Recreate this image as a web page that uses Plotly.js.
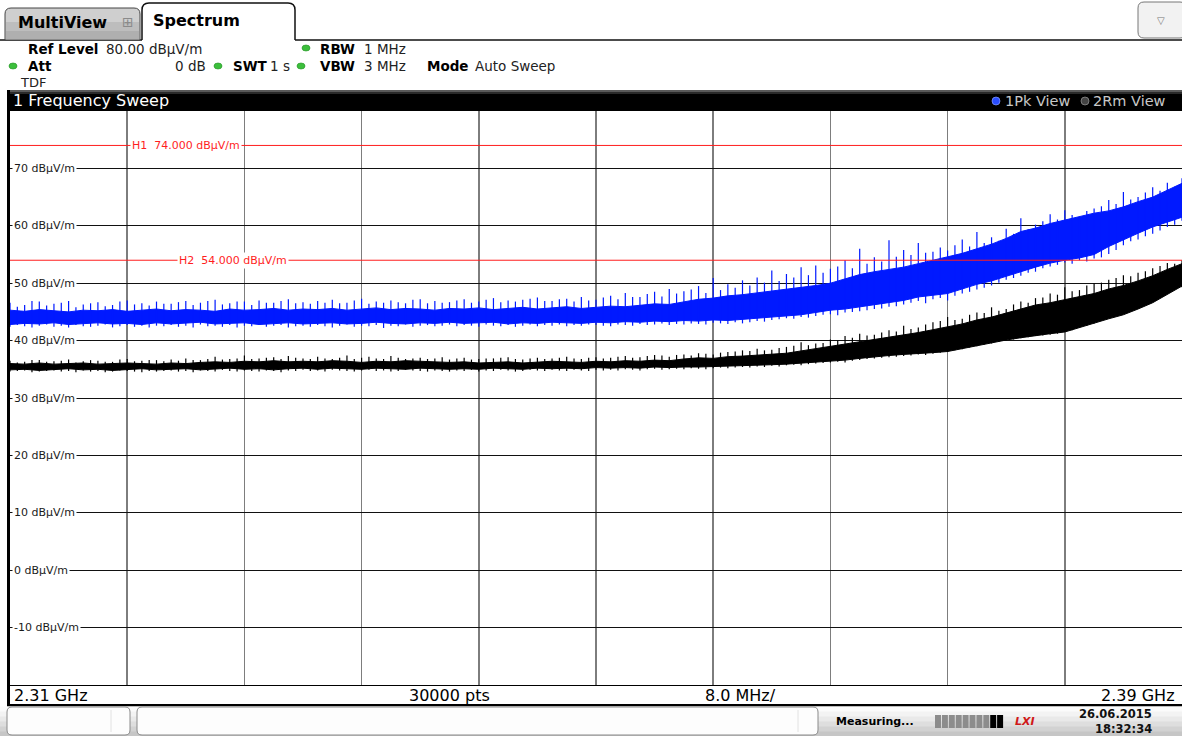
<!DOCTYPE html>
<html>
<head>
<meta charset="utf-8">
<script src="https://cdn.plot.ly/plotly-3.0.1.min.js"></script>
<style>
html,body{margin:0;padding:0;background:#fff;overflow:hidden;}
#chart{width:1182px;height:736px;}
</style>
</head>
<body>
<div id="chart"></div>
<script>
// ---------------- DATA ----------------
// 1 MHz grid: dense core of each trace
const freqMHz = [2310,2311,2312,2313,2314,2315,2316,2317,2318,2319,2320,2321,2322,2323,2324,2325,2326,2327,2328,2329,2330,2331,2332,2333,2334,2335,2336,2337,2338,2339,2340,2341,2342,2343,2344,2345,2346,2347,2348,2349,2350,2351,2352,2353,2354,2355,2356,2357,2358,2359,2360,2361,2362,2363,2364,2365,2366,2367,2368,2369,2370,2371,2372,2373,2374,2375,2376,2377,2378,2379,2380,2381,2382,2383,2384,2385,2386,2387,2388,2389,2390];

// Trace 1 (1Pk View, blue): core band bottom / top (dBµV/m)
const pkLow = [42.8,43.0,42.9,43.1,42.8,43.0,43.1,42.9,43.0,42.8,43.1,
  42.9,43.0,43.2,42.9,43.0,43.1,42.8,43.0,43.1,42.9,
  43.0,43.1,42.9,43.0,43.2,43.0,42.9,43.1,43.0,43.2,
  43.0,43.1,43.2,42.9,43.1,43.0,43.2,43.1,43.0,43.2,
  43.1,43.3,43.2,43.4,43.3,43.5,43.4,43.6,43.5,43.8,
  43.9,44.1,44.3,44.5,44.9,45.3,45.5,45.8,46.2,46.6,
  47.0,47.6,47.9,48.2,49.0,49.8,50.4,51.2,52.0,52.8,
  53.5,54.0,54.4,55.0,56.4,57.6,58.7,59.8,60.6,61.5];
const pkHigh = [45.3,45.1,45.4,45.2,45.0,45.3,45.2,45.4,45.1,45.3,45.5,
  45.2,45.4,45.3,45.1,45.5,45.3,45.4,45.6,45.3,45.5,
  45.4,45.6,45.3,45.5,45.7,45.4,45.6,45.5,45.3,45.6,
  45.5,45.7,45.4,45.6,45.8,45.5,45.7,45.9,45.6,45.8,
  46.0,45.9,46.2,46.4,46.3,46.8,47.2,47.4,47.8,48.0,
  48.3,48.6,49.0,49.3,49.6,50.0,50.8,51.5,52.0,52.4,
  52.8,53.4,54.0,54.5,55.2,56.0,56.8,57.8,59.0,59.6,
  60.4,61.0,61.6,62.2,62.6,63.3,64.2,65.0,66.2,67.4];

// Trace 2 (2Rm View, black): core band bottom / top
const rmLow = [34.9,35.0,34.8,35.0,35.1,34.9,35.0,34.8,35.0,35.1,34.9,
  35.0,35.1,34.9,35.0,35.2,35.0,35.1,34.9,35.1,35.2,
  35.0,35.2,35.1,35.0,35.2,35.1,35.0,35.2,35.1,35.0,
  35.1,35.0,35.2,35.1,35.0,35.2,35.1,35.2,35.1,35.3,
  35.2,35.3,35.2,35.4,35.3,35.4,35.4,35.5,35.5,35.6,
  35.7,35.8,35.9,36.0,36.2,36.4,36.6,36.9,37.2,37.4,
  37.6,37.8,37.9,38.1,38.6,39.2,39.6,40.1,40.5,40.9,
  41.2,41.5,42.3,43.0,43.8,44.5,45.5,46.6,48.0,49.5];
const rmHigh = [36.0,35.9,36.1,35.9,36.0,36.1,35.9,36.0,36.1,36.0,35.9,
  36.1,36.0,36.2,36.3,36.2,36.4,36.3,36.5,36.3,36.4,
  36.3,36.5,36.4,36.2,36.4,36.3,36.5,36.4,36.3,36.2,
  36.3,36.1,36.2,36.3,36.1,36.2,36.4,36.3,36.2,36.4,
  36.3,36.5,36.4,36.6,36.5,36.8,37.0,36.9,37.2,37.3,
  37.5,37.6,37.8,38.2,38.6,38.9,39.3,39.8,40.1,40.6,
  41.0,41.4,41.9,42.4,42.9,43.6,44.1,44.8,45.5,46.2,
  46.6,47.1,47.6,48.2,49.0,49.6,50.4,51.3,52.4,53.4];

// 0.5 MHz bins: min / max excursions (spikes) of each trace
const binMHz = [2310,2310.5,2311,2311.5,2312,2312.5,2313,2313.5,2314,2314.5,2315,2315.5,2316,2316.5,2317,2317.5,2318,2318.5,2319,2319.5,2320,
  2320.5,2321,2321.5,2322,2322.5,2323,2323.5,2324,2324.5,2325,2325.5,2326,2326.5,2327,2327.5,2328,2328.5,2329,2329.5,2330,
  2330.5,2331,2331.5,2332,2332.5,2333,2333.5,2334,2334.5,2335,2335.5,2336,2336.5,2337,2337.5,2338,2338.5,2339,2339.5,2340,
  2340.5,2341,2341.5,2342,2342.5,2343,2343.5,2344,2344.5,2345,2345.5,2346,2346.5,2347,2347.5,2348,2348.5,2349,2349.5,2350,
  2350.5,2351,2351.5,2352,2352.5,2353,2353.5,2354,2354.5,2355,2355.5,2356,2356.5,2357,2357.5,2358,2358.5,2359,2359.5,2360,
  2360.5,2361,2361.5,2362,2362.5,2363,2363.5,2364,2364.5,2365,2365.5,2366,2366.5,2367,2367.5,2368,2368.5,2369,2369.5,2370,
  2370.5,2371,2371.5,2372,2372.5,2373,2373.5,2374,2374.5,2375,2375.5,2376,2376.5,2377,2377.5,2378,2378.5,2379,2379.5,2380,
  2380.5,2381,2381.5,2382,2382.5,2383,2383.5,2384,2384.5,2385,2385.5,2386,2386.5,2387,2387.5,2388,2388.5,2389,2389.5,2390];

const pkMax = [46.6,45.9,46.2,46.9,46.8,46.1,46.4,46.6,46.9,45.8,46.3,46.5,46.7,46.0,46.2,46.8,47.0,46.3,46.5,46.1,46.8,
  46.4,46.4,46.7,46.9,46.2,46.6,46.9,47.1,46.3,46.5,46.8,46.8,46.2,47.0,46.6,46.6,46.9,47.2,46.5,46.7,
  46.4,46.9,46.6,47.1,46.5,46.6,47.0,47.3,46.4,46.8,46.6,47.0,46.7,46.5,47.1,47.2,46.5,46.9,46.6,46.7,
  47.0,47.2,46.6,46.8,47.1,47.4,46.7,47.0,46.8,47.1,47.3,47.5,46.9,46.9,47.2,47.3,46.8,47.6,47.0,47.1,
  47.5,47.8,47.2,48.3,47.6,47.6,48.1,48.5,47.7,49.0,48.2,48.6,48.9,49.5,48.3,50.9,48.8,49.8,49.2,50.5,
  49.6,51.0,50.1,52.2,50.4,51.6,51.0,52.8,51.4,53.1,51.8,52.5,52.9,54.0,52.6,56.0,53.4,54.5,53.8,57.5,
  54.6,55.8,54.9,57.0,55.3,55.5,56.2,55.7,56.6,57.6,56.4,58.9,57.0,58.0,57.4,59.5,58.6,61.3,59.4,60.2,
  60.8,62.0,61.1,62.7,61.9,61.5,62.6,63.0,63.4,64.5,63.8,65.9,64.6,65.0,65.8,66.7,66.1,67.5,66.8,68.3];
const pkMin = [42.4,42.7,42.5,42.3,42.6,42.8,42.4,42.6,42.3,42.7,42.5,42.4,42.6,42.8,42.3,42.5,42.7,42.4,42.6,42.3,42.6,
  42.5,42.7,42.4,42.6,42.3,42.8,42.5,42.6,42.4,42.7,42.3,42.6,42.5,42.8,42.4,42.6,42.7,42.3,42.5,42.6,
  42.4,42.7,42.5,42.3,42.6,42.8,42.4,42.6,42.5,42.7,42.2,42.6,42.5,42.8,42.4,42.6,42.7,42.5,42.6,42.8,
  42.5,42.7,42.6,42.4,42.8,42.6,42.5,42.7,42.4,42.6,42.8,42.5,42.7,42.6,42.8,42.5,42.7,42.6,42.8,42.7,
  42.6,42.5,42.8,42.7,42.6,42.9,42.7,42.8,43.0,42.7,42.9,42.8,43.0,42.9,42.8,43.1,43.0,42.9,43.2,43.0,
  43.2,43.4,43.3,43.6,43.7,43.9,43.8,44.1,44.0,44.3,44.5,44.6,44.4,44.9,45.0,45.1,45.3,45.5,45.6,45.9,
  46.0,46.3,46.6,46.9,46.5,47.2,47.4,47.0,47.8,48.2,48.5,48.9,49.2,49.6,50.1,50.6,50.9,51.3,51.8,52.0,
  52.6,52.9,53.2,53.6,53.4,54.0,53.8,54.3,54.5,55.1,55.8,56.6,57.3,57.6,58.2,58.6,59.2,59.8,60.2,60.9];

const rmMax = [36.5,36.2,36.3,36.6,36.6,36.3,36.4,36.5,36.7,36.2,36.4,36.6,36.5,36.3,36.3,36.7,36.8,36.4,36.5,36.6,36.6,
  36.4,36.7,36.5,36.9,36.6,36.6,36.8,37.2,36.7,36.8,36.9,37.4,36.8,36.9,37.0,37.1,36.8,37.3,37.0,36.9,
  36.8,37.2,36.9,36.8,37.0,37.4,36.8,37.0,37.2,36.9,36.8,37.3,37.0,36.8,36.9,37.0,36.8,36.9,37.1,36.7,
  36.9,37.0,36.7,36.8,36.9,36.9,37.0,37.1,36.8,36.7,36.9,37.0,36.8,36.9,37.0,37.2,36.9,36.8,37.0,37.1,
  36.9,37.0,37.2,37.3,37.0,37.1,37.3,37.5,37.4,37.2,37.5,37.6,37.4,37.8,37.7,37.6,37.9,38.0,38.1,38.3,
  38.2,38.6,38.3,38.4,38.7,38.9,39.1,39.7,39.2,39.5,39.6,40.2,40.0,40.8,40.5,41.2,40.9,41.0,41.4,41.8,
  41.6,42.6,42.0,42.3,42.8,43.2,43.4,44.1,43.6,43.8,44.5,44.9,44.8,45.8,45.2,45.5,46.3,46.8,46.6,47.4,
  47.5,48.2,48.0,49.3,48.6,48.8,49.6,50.0,50.1,50.6,50.9,51.4,51.2,51.8,52.1,52.6,53.0,53.5,53.4,54.0];
const rmMin = [34.6,34.7,34.8,34.5,34.6,34.7,34.8,34.6,34.7,34.5,34.8,34.6,34.7,34.5,34.6,34.8,34.7,34.6,34.5,34.7,34.6,
  34.7,34.8,34.6,34.7,34.5,34.8,34.7,34.6,34.9,34.7,34.6,34.8,34.7,34.6,34.8,34.7,34.5,34.8,34.7,34.9,
  34.7,34.8,34.6,34.9,34.8,34.7,34.6,34.8,34.9,34.7,34.8,34.6,34.7,34.9,34.8,34.7,34.6,34.8,34.7,34.6,
  34.8,34.7,34.9,34.6,34.8,34.7,34.9,34.8,34.6,34.7,34.9,34.8,34.7,34.9,34.8,34.7,34.9,34.8,34.7,34.9,
  34.8,34.9,34.8,35.0,34.9,34.8,35.0,35.1,34.9,35.0,35.1,35.0,35.2,35.1,35.0,35.2,35.3,35.2,35.3,35.4,
  35.3,35.5,35.4,35.6,35.5,35.7,35.8,35.7,35.9,36.0,36.1,36.2,36.3,36.2,36.5,36.6,36.8,36.9,37.0,37.1,
  37.2,37.3,37.4,37.6,37.5,37.7,37.9,38.0,38.3,38.5,38.8,39.0,39.3,39.5,39.8,40.0,40.2,40.4,40.6,40.8,
  40.9,41.0,41.2,41.5,41.8,42.3,42.6,43.0,43.5,44.0,44.4,44.8,45.2,45.6,46.2,46.8,47.5,48.3,48.9,49.3];

const yTickValues = [70,60,50,40,30,20,10,0,-10];
const yUnit = 'dBµV/m';
const limitNames = ['H1','H2'];
const limitValues = [74, 54];
const footerLabels = ['2.31 GHz','30000 pts','8.0 MHz/','2.39 GHz'];
const traceLabels = ['1Pk View','2Rm View'];
const diagramTitle = '1 Frequency Sweep';
const dateText = '26.06.2015';
const timeText = '18:32:34';

// ---------------- GEOMETRY HELPERS ----------------
const L = 10, W = 1172, T = 111, H = 574;
const X = p => (p - L) / W;
const Y = p => (T + H - p) / H;
const FONT = 'DejaVu Sans';
const BLUE = '#0019ff';
const RED = '#ff1e1e';

const shapes = [];
const annotations = [];

function rect(x0, y0, x1, y1, fill, lc, lw) {
  shapes.push({type:'rect', xref:'paper', yref:'paper', layer:'above',
    x0:X(x0), x1:X(x1), y0:Y(y1), y1:Y(y0),
    fillcolor:fill, line:{color:lc || fill, width:lw === undefined ? 0 : lw}});
}
function pathPx(cmds, fill, lc, lw) {
  const s = cmds.map(c => {
    const nums = [];
    for (let i = 1; i < c.length; i += 2) nums.push(X(c[i]) + ',' + Y(c[i+1]));
    return c[0] + ' ' + nums.join(' ');
  }).join(' ');
  shapes.push({type:'path', xref:'paper', yref:'paper', layer:'above', path:s,
    fillcolor:fill, line:{color:lc, width:lw}});
}
function roundRect(x0, y0, x1, y1, r, fill, lc, lw) {
  pathPx([['M',x0+r,y0],['L',x1-r,y0],['Q',x1,y0,x1,y0+r],['L',x1,y1-r],['Q',x1,y1,x1-r,y1],
    ['L',x0+r,y1],['Q',x0,y1,x0,y1-r],['L',x0,y0+r],['Q',x0,y0,x0+r,y0],['Z']], fill, lc, lw);
}
function lineShape(x0, y0, x1, y1, color, width) {
  shapes.push({type:'line', xref:'paper', yref:'paper', layer:'above',
    x0:X(x0), x1:X(x1), y0:Y(y0), y1:Y(y1), line:{color:color, width:width}});
}
function dot(cx, cy, rx, ry, fill, lc) {
  shapes.push({type:'circle', xref:'paper', yref:'paper', layer:'above',
    x0:X(cx-rx), x1:X(cx+rx), y0:Y(cy+ry), y1:Y(cy-ry), fillcolor:fill, line:{color:lc||fill, width:0.7}});
}
function text(t, x, y, size, opt) {
  opt = opt || {};
  annotations.push({text:t, xref:'paper', yref:'paper', x:X(x), y:Y(y),
    xanchor:opt.anchor || 'left', yanchor:'middle', showarrow:false,
    font:{family:opt.family || FONT, size:size, color:opt.color || '#000',
      weight: opt.bold ? 'bold' : 'normal', style: opt.italic ? 'italic' : 'normal'},
    bgcolor:'rgba(0,0,0,0)', borderpad:0});
}

// ---------------- UI FRAME ----------------
lineShape(0, 40, 142, 40, '#111', 1.5);
lineShape(295, 40, 1182, 40, '#111', 1.5);
pathPx([['M',5,40],['L',5,14],['Q',5,8,11,8],['L',134,8],['Q',140,8,140,14],['L',140,40],['Z']], '#cfcfcf', '#444', 1);
pathPx([['M',6,22],['L',139,22],['L',139,39],['L',6,39],['Z']], '#bdbdbd', '#bdbdbd', 0);
pathPx([['M',6,31],['L',139,31],['L',139,39],['L',6,39],['Z']], '#afafaf', '#afafaf', 0);
text('MultiView', 17, 23, 16, {bold:true});
text('⊞', 121, 22, 14, {color:'#8a8a8a'});
pathPx([['M',142,40],['L',142,10],['Q',142,3,149,3],['L',288,3],['Q',295,3,295,10],['L',295,40]], '#ffffff', '#111', 1.5);
lineShape(143, 40, 294, 40, '#ffffff', 2);
text('Spectrum', 152, 21, 16, {bold:true});
roundRect(1138, 2, 1186, 38, 6, '#f2f2f2', '#777', 1);
text('▽', 1161, 20, 10, {color:'#777', anchor:'center'});

// settings info
const GREEN = '#3cbf3c';
text('Ref Level', 27, 49, 13.5, {bold:true});
text('80.00 ' + yUnit, 105, 49, 13.5, {color:'#222'});
dot(306, 48, 4, 3, GREEN, '#2a9a2a');
text('RBW', 319, 49, 13.5, {bold:true});
text('1 MHz', 363, 49, 13.5, {color:'#222'});
dot(13, 66, 4, 3, GREEN, '#2a9a2a');
text('Att', 27, 66, 13.5, {bold:true});
text('0 dB', 207, 66, 13.5, {color:'#222', anchor:'right'});
dot(218, 66, 4, 3, GREEN, '#2a9a2a');
text('SWT', 232, 66, 13.5, {bold:true});
text('1 s', 291, 66, 13.5, {color:'#222', anchor:'right'});
dot(301, 66, 4, 3, GREEN, '#2a9a2a');
text('VBW', 319, 66, 13.5, {bold:true});
text('3 MHz', 363, 66, 13.5, {color:'#222'});
text('Mode', 426, 66, 13.5, {bold:true});
text('Auto Sweep', 474, 66, 13.5, {color:'#222'});
text('TDF', 19, 82, 13, {color:'#222'});

// diagram title bar
rect(7, 90, 1182, 111, '#000');
rect(7, 90, 1182, 92, '#5a5a5a');
rect(7, 92, 1182, 94, '#2a2a2a');
text(diagramTitle, 12, 101, 16, {color:'#ffffff'});
dot(996, 101, 4, 4, '#2a4dff', '#8aa0ff');
text(traceLabels[0], 1004, 101, 14.5, {color:'#c8c8c8'});
dot(1085, 101, 4, 4, '#444', '#999');
text(traceLabels[1], 1092, 101, 14.5, {color:'#c8c8c8'});

// left thick border
rect(7, 90, 10, 706, '#000');

// footer bar
rect(10, 686, 1182, 704, '#ffffff');
lineShape(7, 685.5, 1182, 685.5, '#000', 1.2);
rect(7, 704, 1182, 706.5, '#000');
text(footerLabels[0], 13, 695, 16);
text(footerLabels[1], 449, 695, 16, {anchor:'center'});
text(footerLabels[2], 740, 695, 16, {anchor:'center'});
text(footerLabels[3], 1176, 695, 16, {anchor:'right'});

// status bar
const bandCols = ['#fbfbfb','#f3f3f3','#e9e9e9','#dedede','#d2d2d2','#c6c6c6'];
bandCols.forEach((c, i) => rect(0, 706.5 + i*5, 1182, 706.5 + (i+1)*5 + 0.5, c));
roundRect(7, 707, 130, 735, 5, '#fdfdfd', '#8a8a8a', 1);
lineShape(111, 710, 111, 732, '#e2e2e2', 1);
roundRect(137, 707, 818, 735, 5, '#fdfdfd', '#8a8a8a', 1);
lineShape(798, 710, 798, 732, '#e2e2e2', 1);
text('Measuring...', 835, 721, 11, {bold:true});
for (let i = 0; i < 10; i++) {
  const c = i < 8 ? '#8c8c8c' : '#000';
  rect(935 + i*6.9, 715, 935 + i*6.9 + 6, 728, c);
}
text('LXI', 1014, 721, 11, {bold:true, italic:true, color:'#d01818'});
text(dateText, 1153, 714, 11.5, {bold:true, anchor:'right', color:'#111'});
text(timeText, 1153, 729, 11.5, {bold:true, anchor:'right', color:'#111'});

// ---------------- PLOT CONTENT ----------------
yTickValues.forEach(v => {
  annotations.push({text: v + ' ' + yUnit, xref:'paper', yref:'y', x:0, y:v, xshift:2,
    xanchor:'left', yanchor:'middle', showarrow:false, bgcolor:'#ffffff', borderpad:1,
    font:{family:FONT, size:11, color:'#1a1a1a'}});
});

const limitLabelX = [2318.2, 2321.4];
limitValues.forEach((v, i) => {
  shapes.push({type:'line', xref:'paper', yref:'y', x0:0, x1:1, y0:v, y1:v, layer:'above',
    line:{color:RED, width:1}});
  annotations.push({text: limitNames[i] + '\u00a0\u00a0' + v.toFixed(3) + ' ' + yUnit,
    xref:'x', yref:'y', x:limitLabelX[i], y:v, xanchor:'left', yanchor:'middle',
    showarrow:false, bgcolor:'#ffffff', borderpad:1,
    font:{family:FONT, size:11, color:RED}});
});

function bandTrace(f, lo, hi, color) {
  const xs = f.concat(f.slice().reverse());
  const ys = hi.concat(lo.slice().reverse());
  return {type:'scatter', mode:'lines', x:xs, y:ys, fill:'toself', fillcolor:color,
    line:{color:color, width:1}, hoverinfo:'skip', showlegend:false};
}
function spikeTrace(f, mn, mx, color) {
  const xs = [], ys = [];
  f.forEach((v, i) => { xs.push(v, v, null); ys.push(mn[i], mx[i], null); });
  return {type:'scatter', mode:'lines', x:xs, y:ys, line:{color:color, width:1.2},
    hoverinfo:'skip', showlegend:false, connectgaps:false};
}

const data = [
  bandTrace(freqMHz, rmLow, rmHigh, '#000000'),
  spikeTrace(binMHz, rmMin, rmMax, '#000000'),
  bandTrace(freqMHz, pkLow, pkHigh, BLUE),
  spikeTrace(binMHz, pkMin, pkMax, BLUE)
];

const layout = {
  width:1182, height:736,
  margin:{l:L, r:1182 - L - W, t:T, b:736 - T - H, pad:0},
  paper_bgcolor:'#ffffff', plot_bgcolor:'#ffffff',
  showlegend:false,
  xaxis:{range:[2310, 2390], tick0:2310, dtick:8, showgrid:true, gridcolor:'#7d7d7d', gridwidth:1.5,
    showticklabels:false, ticks:'', zeroline:false, showline:false, fixedrange:true},
  yaxis:{range:[-20, 80], tick0:-20, dtick:10, showgrid:true, gridcolor:'#111111', gridwidth:1,
    showticklabels:false, ticks:'', zeroline:false, showline:false, fixedrange:true},
  shapes:shapes,
  annotations:annotations,
  font:{family:FONT}
};

Plotly.newPlot('chart', data, layout, {displayModeBar:false, staticPlot:true});
</script>
</body>
</html>
